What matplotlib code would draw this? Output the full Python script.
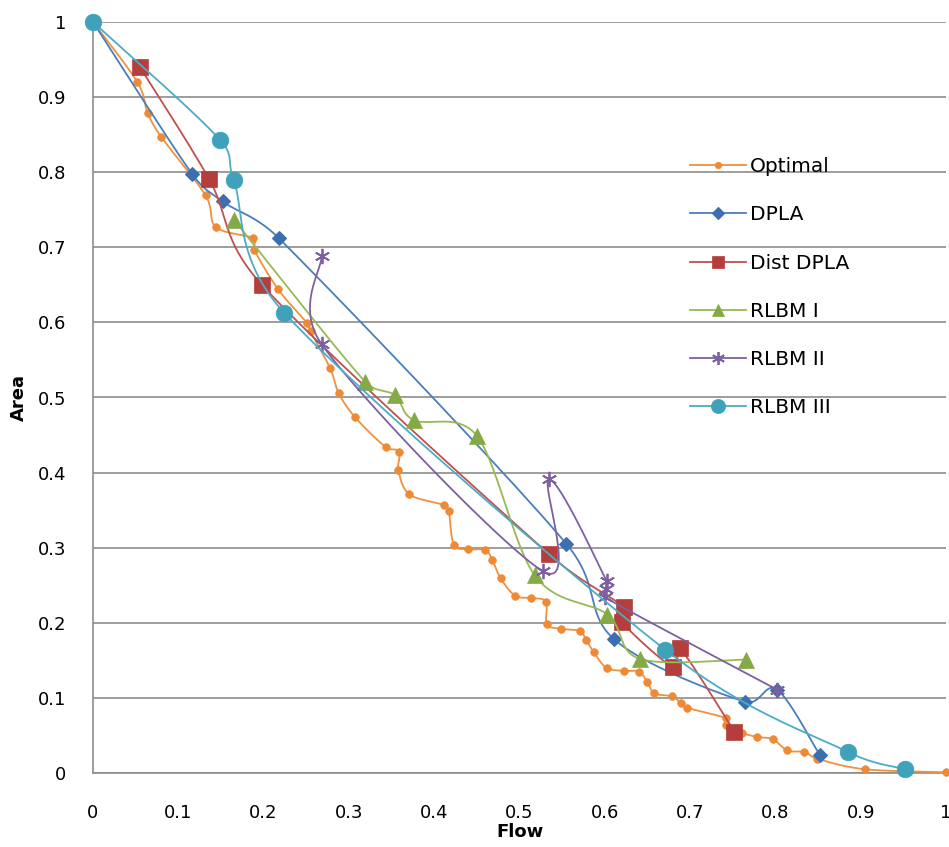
import numpy as np
import matplotlib
matplotlib.use("Agg")
import matplotlib.pyplot as plt
from matplotlib.lines import Line2D

# ---- data ----
optimal_x = [0.0, 0.052, 0.064, 0.080, 0.132, 0.144, 0.188, 0.189, 0.217, 0.251,
             0.255, 0.278, 0.288, 0.307, 0.343, 0.359, 0.358, 0.371, 0.411, 0.417,
             0.423, 0.440, 0.460, 0.468, 0.478, 0.495, 0.514, 0.531, 0.532, 0.549,
             0.571, 0.578, 0.587, 0.602, 0.623, 0.640, 0.650, 0.658, 0.679, 0.689,
             0.696, 0.742, 0.742, 0.752, 0.761, 0.779, 0.797, 0.814, 0.834, 0.849,
             0.905, 1.0]
optimal_y = [1.0, 0.920, 0.879, 0.847, 0.769, 0.727, 0.712, 0.697, 0.644, 0.599,
             0.588, 0.539, 0.506, 0.474, 0.434, 0.428, 0.403, 0.371, 0.357, 0.349,
             0.304, 0.298, 0.297, 0.284, 0.259, 0.236, 0.233, 0.228, 0.198, 0.192,
             0.189, 0.177, 0.161, 0.140, 0.136, 0.135, 0.121, 0.106, 0.102, 0.093,
             0.087, 0.073, 0.064, 0.058, 0.053, 0.048, 0.045, 0.030, 0.028, 0.019,
             0.005, 0.001]

dpla_x = [0.0, 0.116, 0.152, 0.218, 0.555, 0.611, 0.764, 0.802, 0.852]
dpla_y = [1.0, 0.798, 0.761, 0.712, 0.305, 0.178, 0.095, 0.111, 0.024]

dist_x = [0.055, 0.136, 0.198, 0.535, 0.622, 0.620, 0.680, 0.688, 0.752]
dist_y = [0.940, 0.791, 0.650, 0.291, 0.221, 0.201, 0.141, 0.166, 0.055]

rlbm1_x = [0.165, 0.319, 0.354, 0.376, 0.450, 0.518, 0.603, 0.641, 0.765]
rlbm1_y = [0.737, 0.521, 0.503, 0.470, 0.449, 0.263, 0.211, 0.152, 0.151]

rlbm2_x = [0.268, 0.268, 0.527, 0.535, 0.602, 0.601, 0.600, 0.802]
rlbm2_y = [0.688, 0.571, 0.269, 0.391, 0.256, 0.245, 0.234, 0.111]

rlbm3_x = [0.0, 0.149, 0.165, 0.224, 0.671, 0.885, 0.952]
rlbm3_y = [1.0, 0.843, 0.789, 0.613, 0.164, 0.028, 0.005]

x_ticks = [0, 0.1, 0.2, 0.3, 0.4, 0.5, 0.6, 0.7, 0.8, 0.9, 1]
y_ticks = [0, 0.1, 0.2, 0.3, 0.4, 0.5, 0.6, 0.7, 0.8, 0.9, 1]
tick_labels = ["0", "0.1", "0.2", "0.3", "0.4", "0.5", "0.6", "0.7", "0.8", "0.9", "1"]


def smooth_curve(xs, ys, steps=24):
    """Cubic Bezier smoothing through every point (Catmull-Rom style)."""
    p = np.column_stack([xs, ys]).astype(float)
    if len(p) < 3:
        return p[:, 0], p[:, 1]
    ext = np.vstack([p[0], p, p[-1]])
    t = np.linspace(0, 1, steps)[:, None]
    out = [p[:1]]
    for i in range(1, len(ext) - 2):
        p0, p1, p2, p3 = ext[i - 1], ext[i], ext[i + 1], ext[i + 2]
        seg_len = np.linalg.norm(p2 - p1)
        d1 = (p2 - p0) / 6.0
        d2 = (p3 - p1) / 6.0
        # keep handles from overshooting on very short segments
        for d in (d1, d2):
            n = np.linalg.norm(d)
            if n > seg_len * 0.5 and n > 0:
                d *= seg_len * 0.5 / n
        c1 = p1 + d1
        c2 = p2 - d2
        seg = ((1 - t) ** 3) * p1 + 3 * ((1 - t) ** 2) * t * c1 \
            + 3 * (1 - t) * t ** 2 * c2 + t ** 3 * p2
        out.append(seg[1:])
    c = np.vstack(out)
    return c[:, 0], c[:, 1]


series = [
    ("Optimal", optimal_x, optimal_y,
     dict(color="#F0913F", marker="o", ms=5.5, mfc="#EE8A36", mec="#EE8A36", mew=0.5)),
    ("DPLA", dpla_x, dpla_y,
     dict(color="#4A7EBB", marker="D", ms=7.0, mfc="#3D6FB0", mec="#3D6FB0", mew=0.8)),
    ("Dist DPLA", dist_x, dist_y,
     dict(color="#C0504D", marker="s", ms=11, mfc="#B33E3C", mec="#B33E3C", mew=0.5)),
    ("RLBM I", rlbm1_x, rlbm1_y,
     dict(color="#98B954", marker="^", ms=11, mfc="#84AA48", mec="#84AA48", mew=0.5)),
    ("RLBM II", rlbm2_x, rlbm2_y,
     dict(color="#7D60A0", marker=(6, 2, 0), ms=11, mfc="#7D60A0", mec="#7D60A0", mew=1.3)),
    ("RLBM III", rlbm3_x, rlbm3_y,
     dict(color="#4BACC6", marker="o", ms=12, mfc="#3FA2BA", mec="#3FA2BA", mew=0.5)),
]

plt.rcParams["font.family"] = ["DejaVu Sans"]

fig = plt.figure(figsize=(9.49, 8.47), dpi=100)
ax = fig.add_axes([93 / 949, (847 - 773) / 847, (946 - 93) / 949, (773 - 22) / 847])

handles = []
for z, (name, xs, ys, st) in enumerate(series):
    sx, sy = smooth_curve(xs, ys)
    ax.plot(sx, sy, color=st["color"], lw=1.3, zorder=3 + z, solid_capstyle="round",
            clip_on=False)
    ax.plot(xs, ys, linestyle="none", marker=st["marker"], ms=st["ms"],
            mfc=st["mfc"], mec=st["mec"], mew=st["mew"], zorder=3 + z, clip_on=False)
    handles.append(Line2D([], [], color=st["color"], lw=1.3, marker=st["marker"],
                          ms=st["ms"] * 0.85, mfc=st["mfc"], mec=st["mec"], mew=st["mew"],
                          label=name))

ax.set_xlim(0, 1)
ax.set_ylim(0, 1)
ax.set_xticks(x_ticks)
ax.set_xticklabels(tick_labels)
ax.set_yticks(y_ticks)
ax.set_yticklabels(tick_labels)
ax.tick_params(length=0, labelsize=13, colors="#000000")
ax.tick_params(axis="x", pad=22)
ax.tick_params(axis="y", pad=19)

ax.grid(axis="y", color="#8C8C8C", lw=1.2, zorder=1)
ax.set_axisbelow(True)
for side in ("top", "right"):
    ax.spines[side].set_visible(False)
for side in ("left", "bottom"):
    ax.spines[side].set_color("#8C8C8C")
    ax.spines[side].set_linewidth(1.2)

ax.set_xlabel("Flow", fontsize=13, fontweight="bold", labelpad=1)
ax.set_ylabel("Area", fontsize=13, fontweight="bold", labelpad=0)
ax.yaxis.set_label_coords(-0.076, 0.5)

leg = ax.legend(handles=handles, loc="upper left", bbox_to_anchor=(0.700, 0.820),
                frameon=False, fontsize=14.5, handlelength=2.8, handletextpad=0.15,
                labelspacing=1.45, borderpad=0, borderaxespad=0)
for t in leg.get_texts():
    t.set_color("#000000")

fig.savefig("out.png", dpi=100)
